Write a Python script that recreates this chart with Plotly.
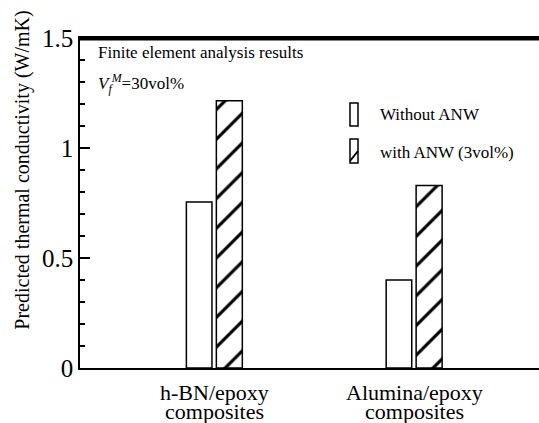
import plotly.graph_objects as go

# ---- data ----
categories = ["h-BN/epoxy composites", "Alumina/epoxy composites"]
category_lines = [["h-BN/epoxy", "composites"], ["Alumina/epoxy", "composites"]]
without_anw = [0.755, 0.40]
with_anw = [1.215, 0.83]
series_names = ["Without ANW", "with ANW (3vol%)"]
y_ticks = [0, 0.5, 1, 1.5]
y_ticklabels = ["0", "0.5", "1", "1.5"]
y_max = 1.5

FONT = "Liberation Serif, Times New Roman, serif"

fig = go.Figure()
fig.add_trace(go.Bar(
    x=categories, y=without_anw, name=series_names[0],
    width=0.128, offset=-0.14,
    marker=dict(color="white", line=dict(color="black", width=1.5)),
    showlegend=False,
))
fig.add_trace(go.Bar(
    x=categories, y=with_anw, name=series_names[1],
    width=0.13, offset=0.01,
    marker=dict(color="white", line=dict(color="black", width=1.5),
                pattern=dict(shape="/", fgcolor="black", bgcolor="white",
                             fgopacity=1, size=21, solidity=0.15)),
    showlegend=False,
))

# x labels as two-line annotations
for cat, lines in zip(categories, category_lines):
    for ln, ys in zip(lines, [-24, -43]):
        fig.add_annotation(x=cat, xref="x", y=0, yref="paper", yshift=ys,
                           text=ln, showarrow=False, xanchor="center", yanchor="middle",
                           font=dict(family=FONT, size=22, color="black"))

fig.add_annotation(x=-0.127, xref="paper", y=0.6, yref="paper",
                   text="Predicted thermal conductivity (W/mK)", textangle=-90,
                   showarrow=False, xanchor="center", yanchor="middle",
                   font=dict(family=FONT, size=20, color="black"))
fig.add_annotation(x=0.034, xref="paper", y=0.955, yref="paper",
                   text="Finite element analysis results", showarrow=False,
                   xanchor="left", yanchor="middle",
                   font=dict(family=FONT, size=17, color="black"))
fig.add_annotation(x=0.034, xref="paper", y=0.862, yref="paper",
                   text="<i>V</i><sub><i>f</i></sub><sup><i>M</i></sup>=30vol%", showarrow=False,
                   xanchor="left", yanchor="middle",
                   font=dict(family=FONT, size=17, color="black"))

# top frame line (slightly inside plot area)
fig.add_shape(type="line", xref="paper", yref="paper", x0=0, x1=1, y0=0.996, y1=0.996,
              line=dict(color="black", width=2.5), layer="above")

# manual legend (narrow tall icons as in the reference)
X0, X1 = 350, 358
def px_x(p):
    return (p - 80) / 459.0
def px_y(p):
    return (368 - p) / 330.0

legend_rows = [(103, 126, 115), (139, 163, 152)]
for i, (name, (ytop, ybot, ymid)) in enumerate(zip(series_names, legend_rows)):
    fig.add_shape(type="rect", xref="paper", yref="paper",
                  x0=px_x(X0), x1=px_x(X1), y0=px_y(ybot), y1=px_y(ytop),
                  line=dict(color="black", width=1.5), fillcolor="white")
    if i == 1:
        fig.add_shape(type="line", xref="paper", yref="paper",
                      x0=px_x(X0), y0=px_y(ybot - 2), x1=px_x(X1), y1=px_y(ybot - 12),
                      line=dict(color="black", width=2))
    fig.add_annotation(x=px_x(378), xref="paper", y=px_y(ymid), yref="paper",
                       text=name, showarrow=False, xanchor="left", yanchor="middle",
                       font=dict(family=FONT, size=17, color="black"))

fig.update_layout(
    width=539, height=423,
    margin=dict(l=80, r=0, t=38, b=55),
    paper_bgcolor="white", plot_bgcolor="white",
    font=dict(family=FONT, color="black"),
    barmode="overlay",
    showlegend=False,
    xaxis=dict(type="category", range=[-0.6725, 1.625], showticklabels=False,
               ticks="", showline=True, linecolor="black", linewidth=1.5,
               mirror=True, showgrid=False, zeroline=False, fixedrange=True),
    yaxis=dict(range=[0, y_max], tickvals=y_ticks, ticktext=y_ticklabels,
               ticks="inside", ticklen=10, tickwidth=1.5, tickcolor="black",
               minor=dict(ticks="inside", ticklen=5, tickwidth=1.5, tickcolor="black", dtick=0.1),
               showline=True, linecolor="black", linewidth=1.5, mirror=False,
               showgrid=False, zeroline=False,
               tickfont=dict(family=FONT, size=25, color="black")),
)

fig.write_html("out.html", config={"displayModeBar": False},
               post_script="document.body.style.margin='0px';document.body.style.overflow='hidden';")
